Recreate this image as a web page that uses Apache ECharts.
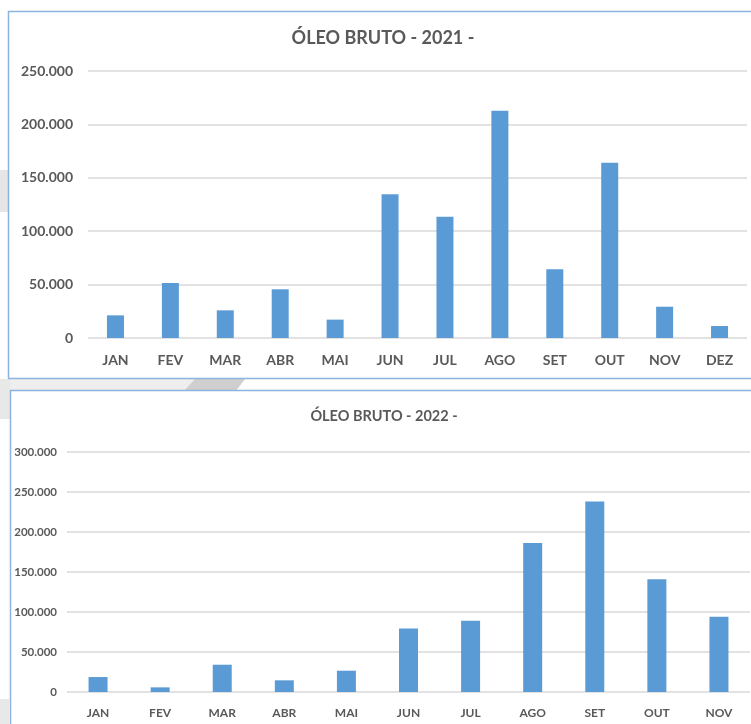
<!DOCTYPE html>
<html>
<head>
<meta charset="utf-8">
<script src="https://cdn.jsdelivr.net/npm/echarts@6/dist/echarts.min.js"></script>
<style>
  html, body { margin: 0; padding: 0; background: #ffffff; }
  #chart { width: 751px; height: 724px; }
</style>
</head>
<body>
<div id="chart"></div>
<script>
// ---- data ----
const months2021 = ['JAN','FEV','MAR','ABR','MAI','JUN','JUL','AGO','SET','OUT','NOV','DEZ'];
const values2021 = [21200, 51500, 25900, 45600, 17200, 134500, 113600, 212800, 64300, 164100, 29300, 11200];
const months2022 = ['JAN','FEV','MAR','ABR','MAI','JUN','JUL','AGO','SET','OUT','NOV'];
const values2022 = [18700, 5800, 34100, 14600, 26600, 79500, 89000, 186400, 238000, 141000, 94000];
const title2021 = 'ÓLEO BRUTO - 2021 -';
const title2022 = 'ÓLEO BRUTO - 2022 -';

function fmt(v) { return String(v).replace(/\B(?=(\d{3})+(?!\d))/g, '.'); }

const gray = '#595959';
const gridColor = '#d9d9d9';
const barColor = '#5B9BD5';
const fontTop = 'Lato, "Open Sans", sans-serif';
const fontBot = 'Lato, "Open Sans", sans-serif';

const chart = echarts.init(document.getElementById('chart'), null, { renderer: 'canvas' });

chart.setOption({
  animation: false,
  backgroundColor: '#ffffff',
  graphic: [
    { type: 'rect', z: -10, shape: { x: 0, y: 170, width: 8, height: 42 }, style: { fill: '#e6e6e6' } },
    { type: 'rect', z: -10, shape: { x: 0, y: 379, width: 200, height: 12 }, style: { fill: '#eeeeee' } },
    { type: 'rect', z: -10, shape: { x: 0, y: 379, width: 10, height: 40 }, style: { fill: '#e8e8e8' } },
    { type: 'polygon', z: -9, shape: { points: [[195,379],[245,379],[236,391],[184,391]] }, style: { fill: '#cfcfcf' } },
    { type: 'rect', z: -10, shape: { x: 0, y: 699, width: 9, height: 25 }, style: { fill: '#e8e8e8' } },
    { type: 'rect', z: -5, shape: { x: 8.5, y: 11.5, width: 800, height: 367 },
      style: { fill: 'rgba(0,0,0,0)', stroke: '#8db4e0', lineWidth: 1.5 } },
    { type: 'rect', z: -5, shape: { x: 10.5, y: 390.5, width: 800, height: 400 },
      style: { fill: 'rgba(0,0,0,0)', stroke: '#8db4e0', lineWidth: 1.5 } },
    { type: 'text', x: 383, y: 38, z: 10,
      style: { text: title2021, align: 'center', verticalAlign: 'middle',
               fontFamily: fontTop, fontSize: 18, fontWeight: 'bold', fill: gray } },
    { type: 'text', x: 384, y: 416, z: 10,
      style: { text: title2022, align: 'center', verticalAlign: 'middle',
               fontFamily: fontBot, fontSize: 14.5, fontWeight: 'bold', fill: gray } }
  ],
  grid: [
    { left: 88, right: 4, top: 71, height: 267 },
    { left: 67, right: 1, top: 452, height: 240 }
  ],
  xAxis: [
    { type: 'category', gridIndex: 0, data: months2021,
      axisLine: { show: false }, axisTick: { show: false },
      axisLabel: { color: gray, fontFamily: fontTop, fontSize: 14, fontWeight: 'bold', margin: 15 } },
    { type: 'category', gridIndex: 1, data: months2022,
      axisLine: { show: false }, axisTick: { show: false },
      axisLabel: { color: gray, fontFamily: fontBot, fontSize: 12, fontWeight: 'bold', margin: 15 } }
  ],
  yAxis: [
    { type: 'value', gridIndex: 0, min: 0, max: 250000, interval: 50000,
      axisLine: { show: false }, axisTick: { show: false },
      splitLine: { lineStyle: { color: gridColor, width: 1.5 } },
      axisLabel: { color: gray, fontFamily: fontTop, fontSize: 14, fontWeight: 'bold', margin: 15, formatter: fmt } },
    { type: 'value', gridIndex: 1, min: 0, max: 300000, interval: 50000,
      axisLine: { show: false }, axisTick: { show: false },
      splitLine: { lineStyle: { color: gridColor, width: 1.5 } },
      axisLabel: { color: gray, fontFamily: fontBot, fontSize: 11.5, fontWeight: 'bold', margin: 10, formatter: fmt } }
  ],
  series: [
    { type: 'bar', xAxisIndex: 0, yAxisIndex: 0, data: values2021, barWidth: 17,
      itemStyle: { color: barColor } },
    { type: 'bar', xAxisIndex: 1, yAxisIndex: 1, data: values2022, barWidth: 19,
      itemStyle: { color: barColor } }
  ]
});
</script>
</body>
</html>
